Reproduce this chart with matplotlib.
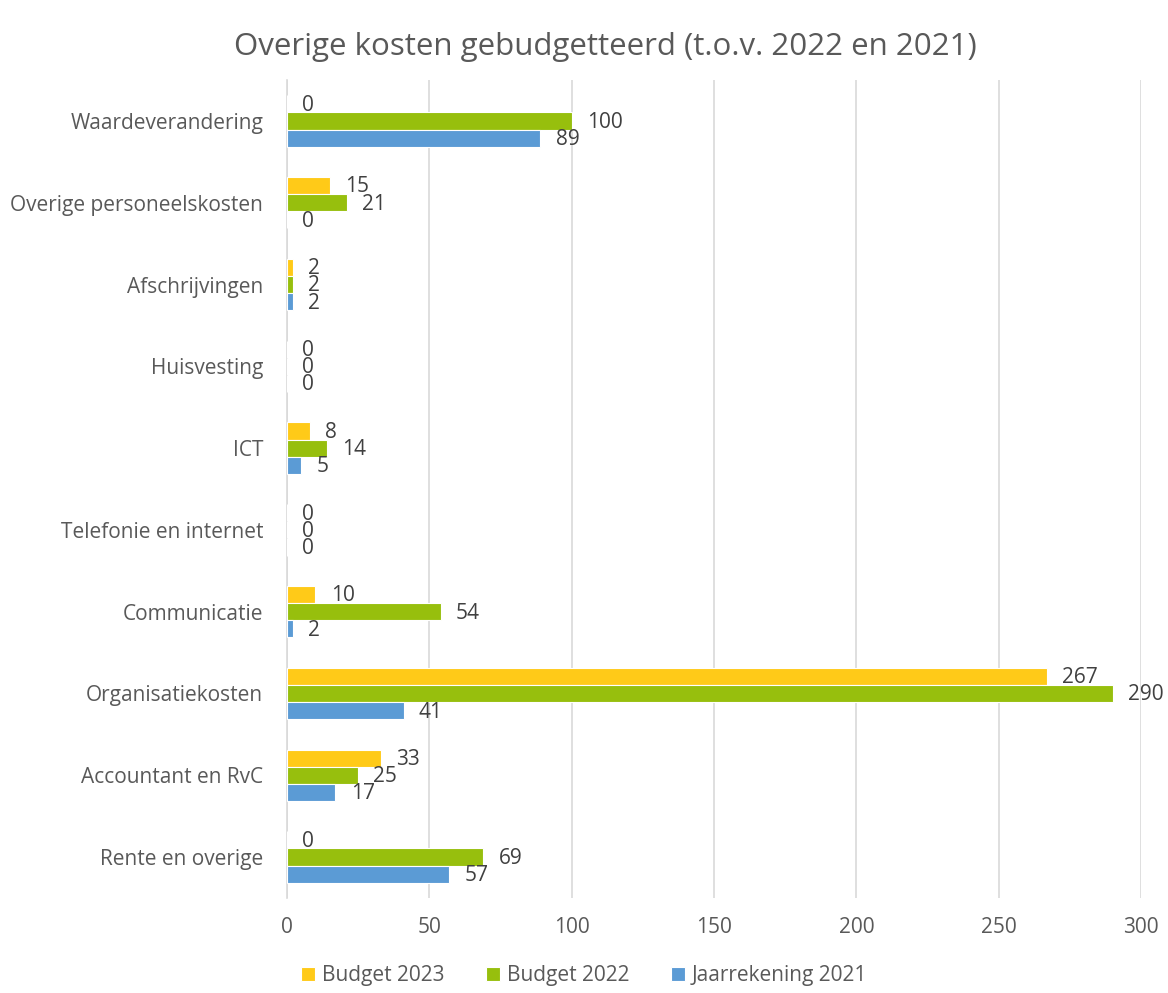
import numpy as np
from matplotlib import pyplot as plt

plt.rcParams['font.family'] = ['Open Sans', 'DejaVu Sans']

# categorieen (van onder naar boven)
categories = ['Rente en overige', 'Accountant en RvC', 'Organisatiekosten',
              'Communicatie', 'Telefonie en internet', 'ICT', 'Huisvesting',
              'Afschrijvingen', 'Overige personeelskosten', 'Waardeverandering']
budget_2023 = [0, 33, 267, 10, 0, 8, 0, 2, 15, 0]
budget_2022 = [69, 25, 290, 54, 0, 14, 0, 2, 21, 100]
jaarrekening_2021 = [57, 17, 41, 2, 0, 5, 0, 2, 0, 89]
x_ticks = [0, 50, 100, 150, 200, 250, 300]

series = [('Budget 2023', budget_2023, '#FFCA18'),
          ('Budget 2022', budget_2022, '#97BF0D'),
          ('Jaarrekening 2021', jaarrekening_2021, '#5B9BD5')]

fig = plt.figure(figsize=(11.68, 9.93), dpi=100)
ax = fig.add_axes([0.2457, 0.0957, 0.7312, 0.8237])

y = np.arange(len(categories))
h = 0.21
offsets = [h, 0, -h]
for (name, vals, col), off in zip(series, offsets):
    ax.barh(y + off, vals, height=h, color=col, edgecolor='white',
            linewidth=0.8, label=name, zorder=3)
    for yi, v in zip(y, vals):
        ax.annotate(str(v), (v, yi + off), xytext=(11, -1), textcoords='offset points',
                    va='center', ha='left', fontsize=15, color='#404040', zorder=4)

ax.set_xlim(0, 300)
ax.set_ylim(-0.5, len(categories) - 0.5)
ax.set_xticks(x_ticks)
ax.set_yticks(y)
ax.set_yticklabels(categories)
ax.grid(axis='x', color='#D9D9D9', linewidth=1.2, zorder=0)
ax.tick_params(axis='x', length=0, pad=14, labelsize=15, labelcolor='#595959')
ax.tick_params(axis='y', length=0, pad=17, labelsize=15, labelcolor='#595959')
for s in ['top', 'right', 'bottom']:
    ax.spines[s].set_visible(False)
ax.spines['left'].set_color('#D9D9D9')
ax.spines['left'].set_linewidth(1.2)

fig.text(0.518, 0.953, 'Overige kosten gebudgetteerd (t.o.v. 2022 en 2021)',
         ha='center', va='center', fontsize=22.5, color='#595959')

fig.legend(loc='lower center', bbox_to_anchor=(0.5, -0.012), ncol=3, frameon=False,
           fontsize=15, labelcolor='#595959', handlelength=0.7, handleheight=0.7,
           handletextpad=0.3, columnspacing=2.0)

plt.savefig('out.png', dpi=100)
